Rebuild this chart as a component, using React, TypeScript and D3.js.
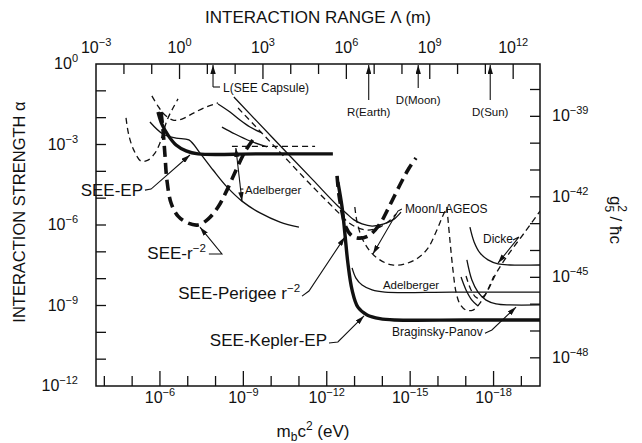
import React from 'react';
import * as d3 from 'd3';

type Pt = [number, number]; // [log10 m_b c^2 (eV), log10 alpha]

const W = 642;
const H = 443;
const FONT = '"Liberation Sans", Arial, Helvetica, sans-serif';
const INK = '#111';

// plot frame
const X0 = 96, X1 = 540, Y0 = 64, Y1 = 386;

const HBARC = 1.973e-7; // eV m, converts mass to range
const M_LEFT = -3.7;    // log10 mass at left edge
const M_RIGHT = -19.67; // log10 mass at right edge
const G_SHIFT = -37.05; // log10(g5^2/hbar c) - log10(alpha)

// tick exponents
const massLabels = [-6, -9, -12, -15, -18];
const massTicks = d3.range(-4, -20, -1);
const alphaLabels = [0, -3, -6, -9, -12];
const alphaTicks = d3.range(-1, -12, -1);
const rangeLabels = [-3, 0, 3, 6, 9, 12];
const rangeTicks = d3.range(-2, 13);
const couplingLabels = [-39, -42, -45, -48];
const couplingTicks = d3.range(-38, -49, -1);

// ---- curves ----
const seeEP: Pt[] = [[-5.93, -1.79], [-6.07, -2.24], [-6.29, -2.65], [-6.58, -3.02], [-6.94, -3.24], [-7.37, -3.35], [-9.5, -3.35], [-12.22, -3.35]];
const seeR2: Pt[] = [[-6.04, -1.79], [-6.11, -2.46], [-6.18, -3.39], [-6.25, -4.32], [-6.4, -5.18], [-6.65, -5.67], [-7.01, -5.93], [-7.37, -6.0], [-7.73, -5.78], [-8.09, -5.33], [-8.41, -4.7], [-8.77, -3.88], [-9.09, -3.21], [-9.45, -2.68]];
const seePerigee: Pt[] = [[-12.37, -4.17], [-12.44, -4.88], [-12.55, -5.52], [-12.69, -6.08], [-12.91, -6.41], [-13.19, -6.49], [-13.55, -6.37], [-13.91, -5.96], [-14.27, -5.26], [-14.63, -4.51], [-14.92, -3.95], [-15.21, -3.5]];
const seeKepler: Pt[] = [[-12.4, -4.4], [-12.55, -5.33], [-12.65, -6.3], [-12.76, -7.42], [-12.91, -8.42], [-13.12, -9.06], [-13.45, -9.35], [-13.91, -9.49], [-14.45, -9.54], [-17, -9.54], [-19.67, -9.54]];
const diagSolid: Pt[] = [[-8.66, -1.23], [-10.06, -2.76], [-11.5, -4.32], [-12.4, -5.29], [-12.69, -5.55], [-12.98, -5.81], [-13.27, -5.96], [-13.63, -6.04], [-14.06, -5.96], [-14.42, -5.78], [-14.67, -5.52]];
const diagDashed: Pt[] = [[-8.81, -1.64], [-10.14, -3.09], [-11.5, -4.58], [-12.47, -5.59], [-12.76, -5.89], [-13.12, -6.11], [-13.48, -6.19], [-13.84, -6.11], [-14.2, -5.89], [-14.49, -5.59]];
const epDashed: Pt[] = [[-8.59, -3.07], [-10.1, -3.07], [-11.58, -3.07]];
const labDashA: Pt[] = [[-4.78, -2.01], [-4.88, -2.65], [-5.06, -3.21], [-5.32, -3.62], [-5.57, -3.58], [-5.82, -3.32], [-6.0, -2.94], [-6.14, -2.46], [-6.29, -2.01], [-6.47, -1.64], [-6.65, -1.3]];
const labDashB: Pt[] = [[-5.71, -1.19], [-5.93, -1.57], [-6.18, -1.9], [-6.47, -2.09], [-6.79, -2.05], [-7.15, -1.86], [-7.58, -1.64], [-8.09, -1.45]];
const adelA: Pt[] = [[-5.64, -2.16], [-6.11, -2.61], [-6.58, -2.76], [-7.04, -2.83], [-7.44, -3.32], [-7.91, -3.95], [-8.41, -4.58], [-8.95, -5.11], [-9.6, -5.55], [-10.32, -5.89], [-11.0, -6.08]];
const adelB: Pt[] = [[-8.09, -1.49], [-8.52, -1.79], [-8.88, -2.09], [-9.24, -2.35], [-9.67, -2.57]];
const adelC: Pt[] = [[-8.23, -2.35], [-8.7, -2.61], [-9.24, -2.87], [-9.85, -3.09]];
const adelRight: Pt[] = [[-12.91, -7.6], [-13.05, -7.98], [-13.27, -8.24], [-13.63, -8.42], [-14.09, -8.5], [-16.5, -8.5], [-19.67, -8.5]];
const moon: Pt[] = [[-13.01, -5.33], [-13.09, -5.89], [-13.27, -6.49], [-13.55, -6.97], [-13.91, -7.3], [-14.35, -7.49], [-14.81, -7.45], [-15.28, -7.23], [-15.64, -6.86], [-15.93, -6.26], [-16.14, -5.74], [-16.32, -5.33]];
const lageos: Pt[] = [[-16.32, -5.33], [-16.43, -6.56], [-16.54, -7.68], [-16.65, -8.5], [-16.79, -8.94], [-17.01, -9.17], [-17.26, -9.17], [-17.51, -8.91], [-17.8, -8.42], [-18.12, -7.75], [-18.59, -7.01], [-19.13, -6.26], [-19.67, -5.48]];
const planetDash: Pt[] = [[-17.01, -7.9], [-17.19, -8.42], [-17.4, -8.72], [-17.65, -8.65], [-17.87, -8.24], [-18.01, -7.9]];
const dicke: Pt[] = [[-17.15, -6.08], [-17.3, -6.63], [-17.51, -7.04], [-17.8, -7.3], [-18.16, -7.45], [-18.59, -7.49], [-19.67, -7.49]];
const braginsky: Pt[] = [[-17.04, -7.3], [-17.22, -8.05], [-17.44, -8.5], [-17.73, -8.8], [-18.09, -8.94], [-18.59, -8.98], [-19.67, -8.98]];
const rollSolid: Pt[] = [[-16.83, -7.94], [-17.01, -8.42], [-17.22, -8.8], [-17.44, -9.02]];

type Style = 'thin' | 'thinDash' | 'thick' | 'thickDash';
const series: { pts: Pt[]; style: Style }[] = [
  { pts: labDashA, style: 'thinDash' },
  { pts: labDashB, style: 'thinDash' },
  { pts: adelA, style: 'thin' },
  { pts: adelB, style: 'thin' },
  { pts: adelC, style: 'thin' },
  { pts: epDashed, style: 'thinDash' },
  { pts: diagSolid, style: 'thin' },
  { pts: diagDashed, style: 'thinDash' },
  { pts: moon, style: 'thinDash' },
  { pts: lageos, style: 'thinDash' },
  { pts: planetDash, style: 'thinDash' },
  { pts: adelRight, style: 'thin' },
  { pts: dicke, style: 'thin' },
  { pts: braginsky, style: 'thin' },
  { pts: rollSolid, style: 'thin' },
  { pts: seeEP, style: 'thick' },
  { pts: seeR2, style: 'thickDash' },
  { pts: seePerigee, style: 'thickDash' },
  { pts: seeKepler, style: 'thick' },
];

const styles: Record<Style, { w: number; dash?: string }> = {
  thin: { w: 1.3 },
  thinDash: { w: 1.3, dash: '6 4' },
  thick: { w: 3.4 },
  thickDash: { w: 3.6, dash: '11 6' },
};

// ---- callouts ----
const callouts: { text: string; sup?: string; size: number; anchor: 'start' | 'end'; at: Pt; leader?: Pt[] }[] = [
  { text: 'SEE-EP', size: 17, anchor: 'end', at: [-5.39, -4.92], leader: [[-5.46, -4.7], [-5.68, -4.66], [-7.08, -3.39]] },
  { text: 'SEE-r', sup: '\u22122', size: 17, anchor: 'end', at: [-7.65, -7.27], leader: [[-7.76, -7.08], [-8.23, -7.08], [-7.44, -6.08]] },
  { text: 'SEE-Perigee r', sup: '\u22122', size: 17, anchor: 'end', at: [-11.04, -8.76], leader: [[-11.11, -8.65], [-11.36, -8.46], [-12.65, -6.45]] },
  { text: 'SEE-Kepler-EP', size: 17, anchor: 'end', at: [-12.01, -10.51], leader: [[-12.08, -10.4], [-12.4, -10.36], [-13.34, -9.39]] },
  { text: 'Adelberger', size: 11.5, anchor: 'start', at: [-9.06, -4.85], leader: [[-8.88, -4.66], [-9.0, -4.66]] },
  { text: 'Moon/LAGEOS', size: 12, anchor: 'start', at: [-14.81, -5.55], leader: [[-14.7, -5.4], [-14.56, -5.48], [-13.66, -7.08]] },
  { text: 'Dicke', size: 12, anchor: 'start', at: [-17.62, -6.67], leader: [[-18.7, -6.56], [-18.91, -6.45], [-18.16, -7.42]] },
  { text: 'Adelberger', size: 11.5, anchor: 'start', at: [-14.02, -8.39] },
  { text: 'Braginsky-Panov', size: 12, anchor: 'start', at: [-14.35, -10.14], leader: [[-17.69, -10.03], [-17.94, -9.91], [-18.81, -9.06]] },
];
const adelArrow: Pt[] = [[-8.73, -3.13], [-8.95, -5.11]];

// ---- range markers on top axis ----
const rangeMarks = [
  { label: 'L(SEE Capsule)', lambda: 16, drop: 23, side: true },
  { label: 'R(Earth)', lambda: 6.37e6, drop: 36, side: false },
  { label: 'D(Moon)', lambda: 3.84e8, drop: 24, side: false },
  { label: 'D(Sun)', lambda: 1.496e11, drop: 36, side: false },
];

const fmt = (e: number) => (e < 0 ? '\u2212' + Math.abs(e) : String(e));

function Pow({ x, y, exp, anchor }: { x: number; y: number; exp: number; anchor: string }) {
  return (
    <text x={x} y={y} textAnchor={anchor} fontSize={16}>
      10<tspan fontSize={11} dy={-7}>{fmt(exp)}</tspan>
    </text>
  );
}

export default function App() {
  const x = d3.scaleLog().domain([10 ** M_LEFT, 10 ** M_RIGHT]).range([X0, X1]);
  const y = d3.scaleLog().domain([1, 1e-12]).range([Y0, Y1]);
  const xr = d3.scaleLog().domain([HBARC / 10 ** M_LEFT, HBARC / 10 ** M_RIGHT]).range([X0, X1]);
  const yg = d3.scaleLog().domain([10 ** G_SHIFT, 10 ** (G_SHIFT - 12)]).range([Y0, Y1]);

  const px = (p: Pt): [number, number] => [x(10 ** p[0]), y(10 ** p[1])];
  const line = d3.line<Pt>()
    .x((d) => x(10 ** d[0]))
    .y((d) => y(10 ** d[1]))
    .curve(d3.curveCatmullRom.alpha(0.5));
  const poly = d3.line<Pt>().x((d) => px(d)[0]).y((d) => px(d)[1]);

  return (
    <svg width={W} height={H} style={{ position: 'absolute', left: 0, top: 0, background: '#fff' }}
      fontFamily={FONT} fill={INK}>
      <defs>
        <marker id="ah" viewBox="0 0 10 6" refX="10" refY="3" markerWidth="9" markerHeight="5.4"
          markerUnits="userSpaceOnUse" orient="auto-start-reverse">
          <path d="M0,0L10,3L0,6z" fill={INK} />
        </marker>
        <clipPath id="plot"><rect x={X0} y={Y0} width={X1 - X0} height={Y1 - Y0} /></clipPath>
      </defs>

      {/* frame */}
      <rect x={X0} y={Y0} width={X1 - X0} height={Y1 - Y0} fill="none" stroke={INK} strokeWidth={1.5} />

      {/* bottom ticks */}
      {massTicks.map((e) => {
        const major = e % 3 === 0;
        return <line key={'b' + e} x1={x(10 ** e)} x2={x(10 ** e)} y1={Y1} y2={Y1 - (major ? 15 : 10)} stroke={INK} strokeWidth={1.3} />;
      })}
      {massLabels.map((e) => <Pow key={'bl' + e} x={x(10 ** e)} y={403} exp={e} anchor="middle" />)}

      {/* top ticks */}
      {rangeTicks.map((e) => {
        const major = e % 3 === 0;
        return <line key={'t' + e} x1={xr(10 ** e)} x2={xr(10 ** e)} y1={Y0} y2={Y0 + (major ? 15 : 10)} stroke={INK} strokeWidth={1.3} />;
      })}
      {rangeLabels.map((e) => <Pow key={'tl' + e} x={xr(10 ** e)} y={53} exp={e} anchor="middle" />)}

      {/* left ticks */}
      {alphaTicks.map((e) => (
        <line key={'l' + e} x1={X0} x2={X0 + 10} y1={y(10 ** e)} y2={y(10 ** e)} stroke={INK} strokeWidth={1.3} />
      ))}
      {alphaLabels.map((e) => <Pow key={'ll' + e} x={78} y={y(10 ** e) + 5} exp={e} anchor="end" />)}

      {/* right ticks */}
      {couplingTicks.map((e) => (
        <line key={'r' + e} x1={X1} x2={X1 - 10} y1={yg(10 ** e)} y2={yg(10 ** e)} stroke={INK} strokeWidth={1.3} />
      ))}
      {couplingLabels.map((e) => <Pow key={'rl' + e} x={552} y={yg(10 ** e) + 5} exp={e} anchor="start" />)}

      {/* axis titles */}
      <text x={318} y={23} textAnchor="middle" fontSize={17}>INTERACTION RANGE  {'\u039B'} (m)</text>
      <text transform="translate(25,212) rotate(-90)" textAnchor="middle" fontSize={16.5}>INTERACTION STRENGTH {'\u03B1'}</text>
      <text x={313} y={437} textAnchor="middle" fontSize={17}>
        m<tspan fontSize={12} dy={4}>b</tspan><tspan dy={-4}>c</tspan><tspan fontSize={12} dy={-7}>2</tspan><tspan dy={7}> (eV)</tspan>
      </text>
      <text transform="translate(610,220) rotate(90)" textAnchor="middle" fontSize={17}>
        g<tspan fontSize={12} dy={5}>5</tspan><tspan fontSize={12} dx={-7} dy={-13}>2</tspan><tspan dy={8}> / {'\u0127'}c</tspan>
      </text>

      {/* curves */}
      <g clipPath="url(#plot)" fill="none" stroke={INK} strokeLinecap="butt" strokeLinejoin="round">
        {series.map((s, i) => (
          <path key={i} d={line(s.pts) || ''} strokeWidth={styles[s.style].w} strokeDasharray={styles[s.style].dash} />
        ))}
      </g>

      {/* range markers */}
      {rangeMarks.map((m) => {
        const cx = xr(m.lambda);
        const yb = Y0 + m.drop;
        return (
          <g key={m.label}>
            <line x1={cx} x2={cx} y1={yb} y2={Y0 + 1} stroke={INK} strokeWidth={1.1} markerEnd="url(#ah)" />
            {m.side ? (
              <>
                <line x1={cx} x2={cx + 7} y1={yb} y2={yb} stroke={INK} strokeWidth={1.1} />
                <text x={cx + 10} y={yb + 5} fontSize={12}>{m.label}</text>
              </>
            ) : (
              <text x={cx} y={yb + 16} textAnchor="middle" fontSize={11.5}>{m.label}</text>
            )}
          </g>
        );
      })}

      {/* callouts */}
      {callouts.map((c, i) => {
        const [tx, ty] = px(c.at);
        const isArrow = c.leader && c.leader.length > 2;
        return (
          <g key={i}>
            <text x={tx} y={ty} textAnchor={c.anchor} fontSize={c.size}>
              {c.text}
              {c.sup && <tspan fontSize={c.size * 0.68} dy={-c.size * 0.42}>{c.sup}</tspan>}
            </text>
            {c.leader && (
              <path d={poly(c.leader) || ''} fill="none" stroke={INK} strokeWidth={1.1}
                markerEnd={isArrow ? 'url(#ah)' : undefined} />
            )}
          </g>
        );
      })}
      <path d={poly(adelArrow) || ''} fill="none" stroke={INK} strokeWidth={1.1}
        markerStart="url(#ah)" markerEnd="url(#ah)" />
    </svg>
  );
}
